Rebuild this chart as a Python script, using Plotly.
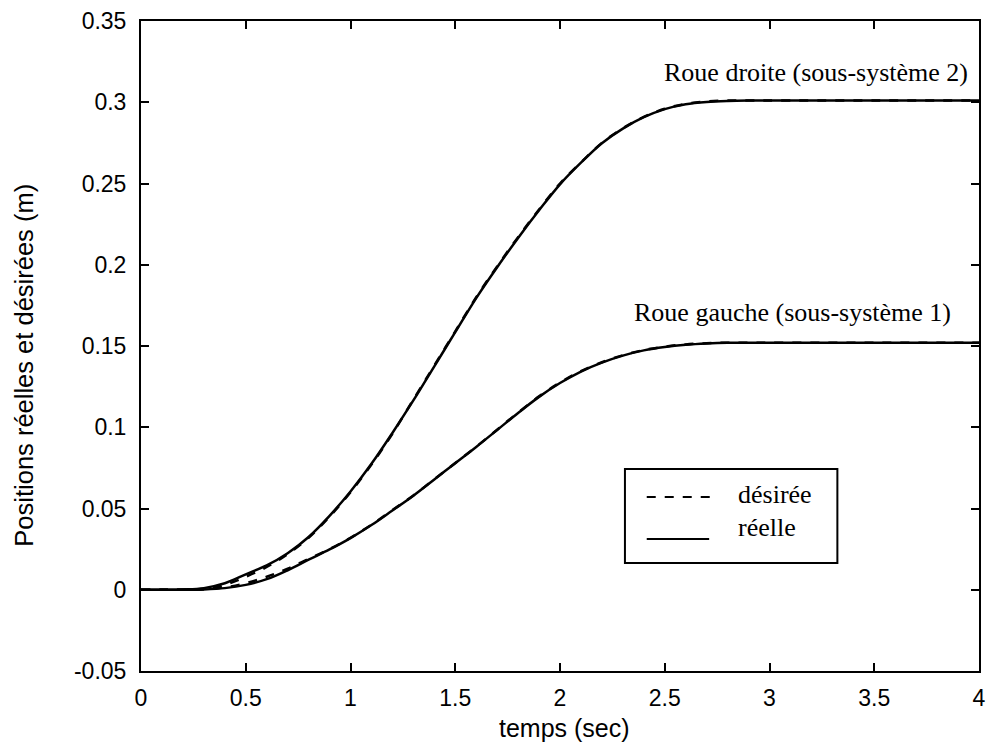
import plotly.graph_objects as go

# Time samples (s)
temps = [0.0, 0.1, 0.2, 0.3, 0.4, 0.5, 0.6, 0.7, 0.8, 0.9, 1.0, 1.1, 1.2, 1.3, 1.4,
         1.5, 1.6, 1.7, 1.8, 1.9, 2.0, 2.1, 2.2, 2.3, 2.4, 2.5, 2.6, 2.7, 2.8, 2.9,
         3.0, 3.5, 4.0]

# Right wheel (sub-system 2): desired and measured positions (m)
droite_desiree = [0.0, 0.0, 0.0, 0.0005, 0.003, 0.008, 0.014, 0.022, 0.032, 0.045, 0.060,
                  0.077, 0.096, 0.117, 0.138, 0.159, 0.180, 0.199, 0.217, 0.234, 0.250,
                  0.263, 0.275, 0.284, 0.291, 0.296, 0.299, 0.3005, 0.301, 0.301, 0.301,
                  0.301, 0.301]
droite_reelle = [0.0, 0.0, 0.0002, 0.001, 0.004, 0.0095, 0.015, 0.0225, 0.0325, 0.0455, 0.0605,
                 0.0775, 0.0965, 0.1165, 0.1375, 0.1585, 0.1795, 0.1985, 0.2165, 0.2335, 0.2495,
                 0.2628, 0.2748, 0.2838, 0.2908, 0.2958, 0.2988, 0.3002, 0.3008, 0.301, 0.301,
                 0.301, 0.301]

# Left wheel (sub-system 1): desired and measured positions (m)
gauche_desiree = [0.0, 0.0, 0.0, 0.0003, 0.0015, 0.004, 0.008, 0.013, 0.019, 0.025, 0.032,
                  0.040, 0.049, 0.058, 0.068, 0.078, 0.088, 0.0985, 0.109, 0.119, 0.1275,
                  0.1345, 0.140, 0.1443, 0.1475, 0.1496, 0.151, 0.1517, 0.152, 0.152, 0.152,
                  0.152, 0.152]
gauche_reelle = [0.0, 0.0, 0.0, 0.0002, 0.001, 0.003, 0.0065, 0.012, 0.0185, 0.0248, 0.0318,
                 0.0398, 0.0488, 0.0579, 0.0679, 0.0779, 0.0879, 0.0983, 0.1088, 0.1187, 0.1272,
                 0.1343, 0.1398, 0.1441, 0.1473, 0.1494, 0.1508, 0.1516, 0.152, 0.152, 0.152,
                 0.152, 0.152]

x_ticks = [0, 0.5, 1, 1.5, 2, 2.5, 3, 3.5, 4]
x_labels = ["0", "0.5", "1", "1.5", "2", "2.5", "3", "3.5", "4"]
y_ticks = [-0.05, 0, 0.05, 0.1, 0.15, 0.2, 0.25, 0.3, 0.35]
y_labels = ["-0.05", "0", "0.05", "0.1", "0.15", "0.2", "0.25", "0.3", "0.35"]

SANS = "Liberation Sans, Arial, sans-serif"
SERIF = "Liberation Serif, Times New Roman, serif"

fig = go.Figure()

for y in (droite_desiree, gauche_desiree):
    fig.add_trace(go.Scatter(x=temps, y=y, mode="lines", showlegend=False,
                             line=dict(color="black", width=2.5, dash="dash", shape="spline")))
for y in (droite_reelle, gauche_reelle):
    fig.add_trace(go.Scatter(x=temps, y=y, mode="lines", showlegend=False,
                             line=dict(color="black", width=2.5, shape="spline")))

axis_common = dict(
    showgrid=False, zeroline=False, showline=True, linecolor="black", linewidth=2,
    mirror="ticks", ticks="inside", ticklen=8, tickwidth=1.5, tickcolor="black",
    tickfont=dict(family=SANS, size=23, color="black"),
)
fig.update_xaxes(range=[0, 4], tickvals=x_ticks, ticktext=x_labels,
                 ticklabelstandoff=5, **axis_common)
fig.update_yaxes(range=[-0.05, 0.35], tickvals=y_ticks, ticktext=y_labels,
                 ticklabelstandoff=8, **axis_common)

# Legend box drawn in paper coordinates
shapes = [
    dict(type="rect", xref="paper", yref="paper", x0=0.5775, x1=0.831, y0=0.1662, y1=0.3108,
         line=dict(color="black", width=2), fillcolor="white", layer="above"),
    dict(type="line", xref="paper", yref="paper", x0=0.6035, x1=0.6816, y0=0.2677, y1=0.2677,
         line=dict(color="black", width=2, dash="dash"), layer="above"),
    dict(type="line", xref="paper", yref="paper", x0=0.6035, x1=0.678, y0=0.2031, y1=0.2031,
         line=dict(color="black", width=2), layer="above"),
]

annotations = [
    dict(text="désirée", xref="paper", yref="paper", x=0.71, y=0.2708, xanchor="left",
         yanchor="middle", showarrow=False, font=dict(family=SERIF, size=26, color="black")),
    dict(text="réelle", xref="paper", yref="paper", x=0.71, y=0.2215, xanchor="left",
         yanchor="middle", showarrow=False, font=dict(family=SERIF, size=26, color="black")),
    dict(text="Roue droite (sous-système 2)", xref="paper", yref="paper", x=0.989, y=0.9215,
         xanchor="right", yanchor="middle", showarrow=False,
         font=dict(family=SERIF, size=26, color="black")),
    dict(text="Roue gauche (sous-système 1)", xref="paper", yref="paper", x=0.9685, y=0.5523,
         xanchor="right", yanchor="middle", showarrow=False,
         font=dict(family=SERIF, size=26, color="black")),
    dict(text="temps (sec)", xref="paper", yref="paper", x=0.5053, y=-0.088,
         xanchor="center", yanchor="middle", showarrow=False,
         font=dict(family=SANS, size=25, color="black")),
    dict(text="Positions réelles et désirées (m)", xref="paper", yref="paper", x=-0.14,
         y=0.4708, xanchor="center", yanchor="middle", textangle=-90, showarrow=False,
         font=dict(family=SANS, size=25.5, color="black")),
]

fig.update_layout(
    width=994, height=742,
    margin=dict(l=141, r=8, t=21, b=71),
    paper_bgcolor="white", plot_bgcolor="white",
    shapes=shapes, annotations=annotations,
)

fig.write_html("out.html")
